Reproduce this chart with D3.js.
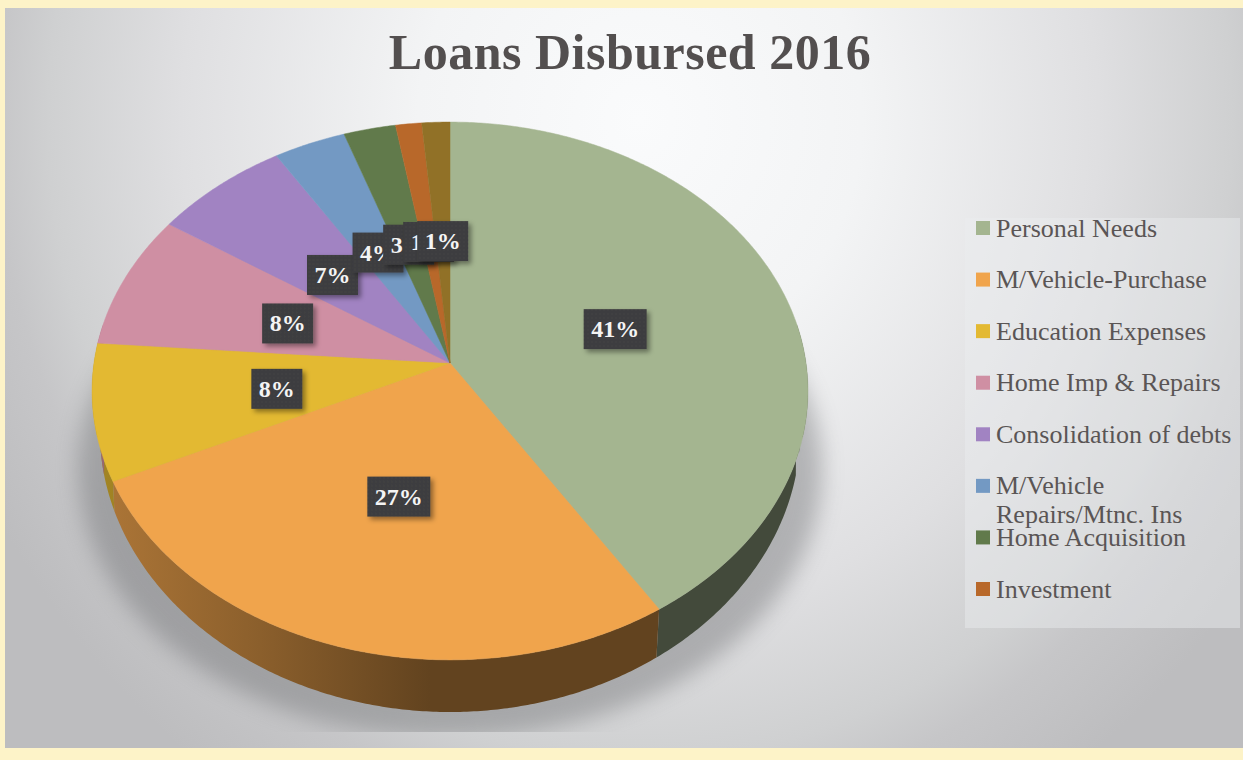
<!DOCTYPE html>
<html>
<head>
<meta charset="utf-8">
<title>Loans Disbursed 2016</title>
<script src="https://cdn.jsdelivr.net/npm/d3@7"></script>
<style>
  html, body { margin: 0; padding: 0; background: #fdf3c8; }
  svg { display: block; }
  text { font-family: "Liberation Serif", serif; }
</style>
</head>
<body>
<div id="chart"></div>
<script>
const chartTitle = "Loans Disbursed 2016";
const legendNames = [
  ["Personal Needs"],
  ["M/Vehicle-Purchase"],
  ["Education Expenses"],
  ["Home Imp & Repairs"],
  ["Consolidation of debts"],
  ["M/Vehicle", "Repairs/Mtnc. Ins"],
  ["Home Acquisition"],
  ["Investment"]
];
// nine slices in the pie, the legend only lists eight
const sliceValues = [41, 27, 8.2, 8.1, 6.8, 3.6, 2.6, 1.3, 1.4];
const sliceColors = ["#a4b590", "#f0a44c", "#e3b932", "#cf8fa3", "#a183c2", "#7399c3", "#617a4b", "#b8682a", "#917127"];

const width = 1243, height = 760;
const svg = d3.select("#chart").append("svg").attr("width", width).attr("height", height);
const defs = svg.append("defs");

// background
const bg = defs.append("radialGradient").attr("id", "bg")
  .attr("gradientUnits", "userSpaceOnUse")
  .attr("cx", 0).attr("cy", 0).attr("r", 1)
  .attr("gradientTransform", "translate(640,120) scale(740,800)");
[[0, "#fafbfc"], [0.3, "#f3f4f5"], [0.62, "#dfdfe1"], [0.8, "#cfd0d1"], [0.87, "#c6c6c8"], [1, "#bdbdbf"]].forEach(s =>
  bg.append("stop").attr("offset", s[0]).attr("stop-color", s[1]));

svg.append("rect").attr("x", 5).attr("y", 8).attr("width", width - 5).attr("height", 740).attr("fill", "url(#bg)");

// filters
defs.append("filter").attr("id", "soft")
  .attr("x", "-10%").attr("y", "-10%").attr("width", "120%").attr("height", "120%")
  .append("feGaussianBlur").attr("stdDeviation", 11);
const boxShadow = defs.append("filter").attr("id", "boxShadow")
  .attr("x", "-20%").attr("y", "-20%").attr("width", "150%").attr("height", "150%");
boxShadow.append("feDropShadow").attr("dx", 3).attr("dy", 3).attr("stdDeviation", 2.5)
  .attr("flood-color", "#000").attr("flood-opacity", 0.4);
const dots = defs.append("pattern").attr("id", "dots")
  .attr("width", 4).attr("height", 4).attr("patternUnits", "userSpaceOnUse");
dots.append("rect").attr("width", 4).attr("height", 4).attr("fill", "#3d3d3f");
dots.append("circle").attr("cx", 1).attr("cy", 1).attr("r", 0.7).attr("fill", "#48484a");

// the pie is tilted: top face through a small perspective map
const cx = 450, apexY = 363, R = 356, B = 266, k = 0.104;
function project(angle, r = 1) {
  const u = r * Math.sin(angle), v = -r * Math.cos(angle);
  const w = 1 - k * v;
  return [cx + R * u / w, apexY + B * v / w];
}
// lower outline of the base
const baseY = 437, baseRx = 350, baseRy = 275;
function wallFoot(p) {
  const q = Math.min(1, Math.abs(p[0] - cx) / baseRx);
  const root = Math.sqrt(1 - q * q);
  const x = p[0] - 0.016 * (p[0] - cx) * root;
  return [x, Math.max(p[1], baseY + baseRy * root)];
}

const color = d3.scaleOrdinal().domain(d3.range(sliceValues.length)).range(sliceColors);
const pie = d3.pie().sort(null)(sliceValues);
const line = d3.line();
const step = Math.PI / 360;

function arcPoints(a0, a1) {
  const n = Math.max(2, Math.ceil((a1 - a0) / step));
  return d3.range(n + 1).map(i => project(a0 + (a1 - a0) * i / n));
}

// shadow under the pie, cut off flat at the bottom
defs.append("clipPath").attr("id", "shadowClip")
  .append("rect").attr("x", 0).attr("y", 0).attr("width", width).attr("height", 732);
svg.append("g").attr("clip-path", "url(#shadowClip)")
  .append("ellipse")
  .attr("cx", cx).attr("cy", 470).attr("rx", 372).attr("ry", 268)
  .attr("fill", "#6a6c6e").attr("opacity", 0.42).attr("filter", "url(#soft)");

// side wall shading, light on the left and dark from the middle on
const wallShade = d3.scaleLinear().domain([100, 260, 430, 800]).range([0.72, 0.58, 0.41, 0.41]).clamp(true);
pie.forEach((d, i) => {
  const g = defs.append("linearGradient").attr("id", "wall" + i)
    .attr("gradientUnits", "userSpaceOnUse")
    .attr("x1", 100).attr("x2", 800).attr("y1", 0).attr("y2", 0);
  wallShade.domain().forEach(x => {
    const c = d3.rgb(color(i));
    const f = wallShade(x);
    g.append("stop").attr("offset", (x - 100) / 700)
      .attr("stop-color", d3.rgb(c.r * f, c.g * f, c.b * f).formatHex());
  });
});

const walls = svg.append("g");
pie.forEach((d, i) => {
  const a0 = Math.max(d.startAngle, Math.PI / 2 - 0.15);
  const a1 = Math.min(d.endAngle, 3 * Math.PI / 2 + 0.15);
  if (a1 <= a0) return;
  const topEdge = arcPoints(a0, a1);
  const footEdge = topEdge.map(wallFoot).reverse();
  walls.append("path")
    .attr("d", line(topEdge.concat(footEdge)) + "Z")
    .attr("fill", `url(#wall${i})`);
});

// top face
svg.append("g").selectAll("path")
  .data(pie).enter().append("path")
  .attr("d", d => line([project(0, 0)].concat(arcPoints(d.startAngle, d.endAngle))) + "Z")
  .attr("fill", (d, i) => color(i))
  .attr("stroke", (d, i) => color(i))
  .attr("stroke-width", 0.5);

// data labels
const labelFormat = v => d3.format(".0f")(v) + "%";
const labels = svg.append("g").selectAll("g")
  .data(pie).enter().append("g")
  .attr("transform", d => {
    const p = project((d.startAngle + d.endAngle) / 2, 0.49);
    return `translate(${p[0]},${p[1] + 2})`;
  });
const labelRects = labels.append("rect")
  .attr("fill", "url(#dots)")
  .attr("filter", "url(#boxShadow)");
const labelTexts = labels.append("text")
  .attr("text-anchor", "middle")
  .attr("dy", "0.33em")
  .attr("fill", "#f4f4f4")
  .attr("font-size", 24)
  .attr("font-weight", "bold")
  .text(d => labelFormat(d.value));
labelTexts.each(function (d, i) {
  const w = this.getBBox().width + 15;
  d3.select(labelRects.nodes()[i])
    .attr("x", -w / 2).attr("y", -20).attr("width", w).attr("height", 40);
});

// title
svg.append("text")
  .attr("x", 630).attr("y", 69)
  .attr("text-anchor", "middle")
  .attr("fill", "#534f4f")
  .attr("font-size", 50)
  .attr("letter-spacing", 0.5)
  .attr("font-weight", "bold")
  .text(chartTitle);

// legend
svg.append("rect")
  .attr("x", 965).attr("y", 218).attr("width", 275).attr("height", 410)
  .attr("fill", "#eceef0").attr("opacity", 0.45);
const legendY = d3.scaleLinear().domain([0, legendNames.length - 1]).range([228, 589]);
const legend = svg.append("g").selectAll("g")
  .data(legendNames).enter().append("g")
  .attr("transform", (d, i) => `translate(976,${legendY(i)})`);
legend.append("rect")
  .attr("x", 0).attr("y", -7).attr("width", 14).attr("height", 14)
  .attr("fill", (d, i) => color(i));
legend.selectAll("text")
  .data(d => d).enter().append("text")
  .attr("x", 20)
  .attr("y", (d, i) => i * 29)
  .attr("dy", "0.33em")
  .attr("fill", "#5a5555")
  .attr("font-size", 26)
  .text(d => d);
</script>
</body>
</html>
